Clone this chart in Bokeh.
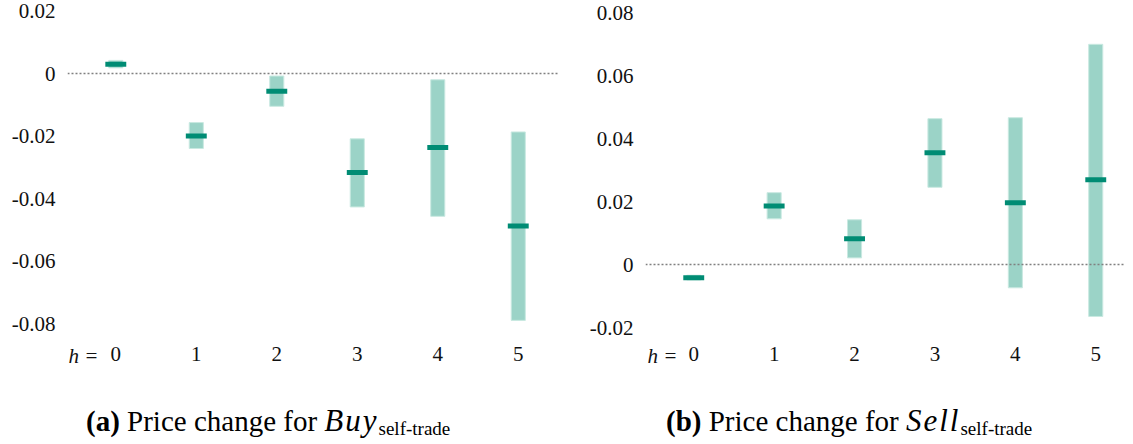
from bokeh.plotting import figure
from bokeh.models import FixedTicker, Span, Label, Div, Range1d
from bokeh.layouts import row, column
from bokeh.embed import file_html
from bokeh.resources import INLINE

# ---- data ----
horizons = [0, 1, 2, 3, 4, 5]
x_tick_labels = ["0", "1", "2", "3", "4", "5"]

buy_mid = [0.0030, -0.0200, -0.0057, -0.0317, -0.0237, -0.0488]
buy_lo = [0.0018, -0.0240, -0.0105, -0.0427, -0.0457, -0.0790]
buy_hi = [0.0042, -0.0157, -0.0008, -0.0209, -0.0020, -0.0187]
buy_y_ticks = [0.02, 0.0, -0.02, -0.04, -0.06, -0.08]
buy_y_labels = ["0.02", "0", "-0.02", "-0.04", "-0.06", "-0.08"]

sell_mid = [-0.0042, 0.0186, 0.0082, 0.0355, 0.0196, 0.0269]
sell_lo = [-0.0049, 0.0145, 0.0021, 0.0245, -0.0074, -0.0165]
sell_hi = [-0.0034, 0.0228, 0.0142, 0.0463, 0.0466, 0.0699]
sell_y_ticks = [0.08, 0.06, 0.04, 0.02, 0.0, -0.02]
sell_y_labels = ["0.08", "0.06", "0.04", "0.02", "0", "-0.02"]

FONT = "Liberation Serif"
LIGHT = "#9bd3c7"
LIGHT_EDGE = "#c9e9e1"
DARK = "#008c74"


def panel(width, border_left, border_right, x_end, y_top, px_per_unit, top_val,
          mids, los, his, yticks, ylabels, h_offset):
    fig_h = 395
    y_end = top_val + y_top / px_per_unit
    y_start = y_end - fig_h / px_per_unit
    axis_y = y_end - 340 / px_per_unit
    h_y = y_end - 355 / px_per_unit
    p = figure(width=width, height=fig_h, output_backend="svg", toolbar_location=None,
               x_range=Range1d(-0.6, x_end), y_range=Range1d(y_start, y_end),
               min_border_left=border_left, min_border_right=border_right,
               min_border_top=0, min_border_bottom=0)
    p.outline_line_color = None
    p.xgrid.visible = False
    p.ygrid.visible = False
    p.background_fill_color = "white"
    p.border_fill_color = "white"

    p.add_layout(Span(location=0, dimension="width", line_color="#808080",
                      line_width=1.5, line_dash="2 2"))

    p.vbar(x=horizons, bottom=los, top=his, width=0.175, fill_color=LIGHT,
           line_color=LIGHT_EDGE, line_width=1)
    p.rect(x=horizons, y=mids, width=0.26, height=5, height_units="screen",
           fill_color=DARK, line_color=None)

    for ax in (p.xaxis[0], p.yaxis[0]):
        ax.axis_line_color = None
        ax.major_tick_line_color = None
        ax.minor_tick_line_color = None
        ax.major_tick_out = 0
        ax.minor_tick_out = 0
        ax.major_label_text_font = FONT
        ax.major_label_text_font_size = "21px"
        ax.major_label_text_color = "#111111"

    p.yaxis.ticker = FixedTicker(ticks=yticks)
    p.yaxis.major_label_overrides = dict(zip(yticks, ylabels))
    p.yaxis.major_label_standoff = 12

    p.xaxis.ticker = FixedTicker(ticks=horizons)
    p.xaxis.major_label_overrides = dict(zip(horizons, x_tick_labels))
    p.xaxis.major_label_standoff = 6
    p.xaxis.fixed_location = axis_y

    p.add_layout(Label(x=-0.6, y=h_y, x_offset=h_offset, text="h =", text_align="left",
                       text_baseline="middle", text_font=FONT, text_font_style="italic",
                       text_font_size="21px", text_color="#111111"))
    return p


p_buy = panel(570, 67, 12, 5.5, 10.5, 3125, 0.02,
              buy_mid, buy_lo, buy_hi, buy_y_ticks, buy_y_labels, 1)
p_sell = panel(555, 75, 0, 5.37, 12, 3150, 0.08,
               sell_mid, sell_lo, sell_hi, sell_y_ticks, sell_y_labels, 2)


def caption(letter, word, width, pad_left):
    style = {"font-family": FONT, "font-size": "29px", "color": "#000",
             "text-align": "left", "line-height": "28px", "padding-top": "12px",
             "padding-left": f"{pad_left}px", "white-space": "nowrap"}
    html = (f'<span style="font-weight:bold">({letter})</span> Price change for '
            f'<span style="font-style:italic;font-size:31px;letter-spacing:2px">{word}</span>'
            f'<span style="font-size:19px;position:relative;top:4px">self-trade</span>')
    return Div(text=html, width=width, height=45, margin=0, styles=style)


cap_a = caption("a", "Buy", 570, 86)
cap_b = caption("b", "Sell", 555, 96)

layout = row(column(p_buy, cap_a), column(p_sell, cap_b))

open("out.html", "w").write(file_html(layout, INLINE))
